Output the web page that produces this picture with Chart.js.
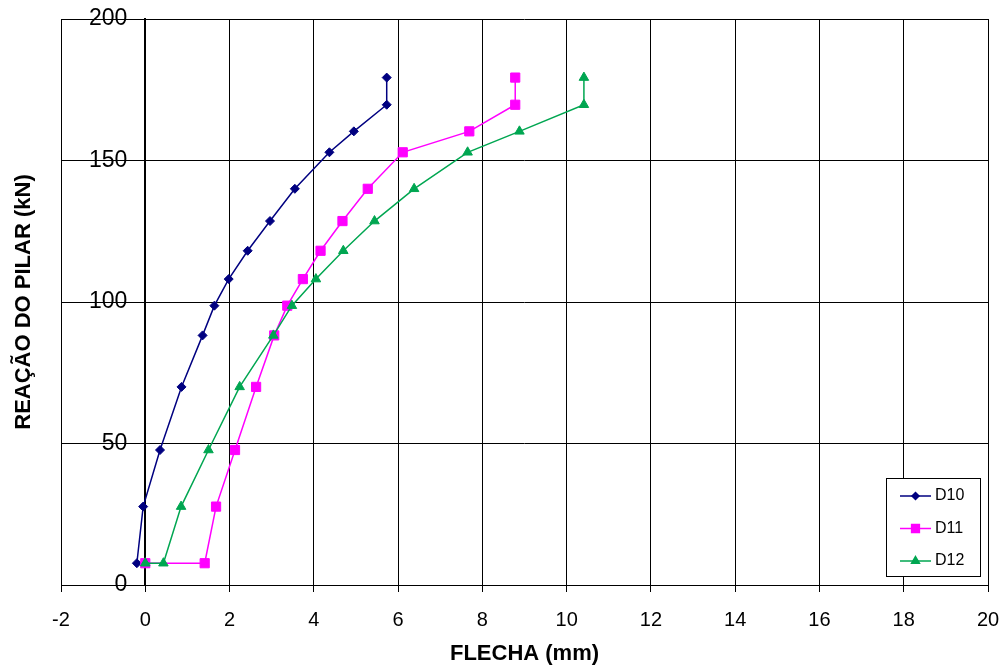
<!DOCTYPE html>
<html>
<head>
<meta charset="utf-8">
<script src="https://cdn.jsdelivr.net/npm/chart.js@4/dist/chart.umd.min.js"></script>
<style>
  html, body { margin: 0; padding: 0; background: #fff; }
  #wrap { width: 1005px; height: 668px; position: relative; }
</style>
</head>
<body>
<div id="wrap"><canvas id="grafico"></canvas></div>
<script>
// Flecha (mm) x reação do pilar (kN) - deflectometros D10, D11, D12
const flechaD10 = [-0.2, -0.05, 0.35, 0.86, 1.36, 1.64, 1.98, 2.43, 2.96, 3.55, 4.37, 4.95, 5.73, 5.73];
const cargaD10  = [7.7, 27.7, 47.7, 70, 88.2, 98.7, 108.1, 118.1, 128.6, 140, 152.9, 160.3, 169.7, 179.3];

const flechaD11 = [0, 1.41, 1.68, 2.13, 2.63, 3.06, 3.37, 3.74, 4.16, 4.68, 5.28, 6.11, 7.69, 8.78, 8.78];
const cargaD11  = [7.7, 7.7, 27.7, 47.7, 70, 88.2, 98.7, 108.1, 118.1, 128.6, 140, 152.9, 160.3, 169.7, 179.3];

const flechaD12 = [0, 0.43, 0.85, 1.5, 2.24, 3.04, 3.48, 4.05, 4.7, 5.44, 6.38, 7.65, 8.88, 10.41, 10.41];
const cargaD12  = [7.7, 7.7, 27.7, 47.7, 70, 88.2, 98.7, 108.1, 118.1, 128.6, 140, 152.9, 160.3, 169.7, 179.3];

const xTicks = { min: -2, max: 20, step: 2 };
const yTicks = { min: 0, max: 200, step: 50 };

const pares = (xs, ys) => xs.map((x, i) => ({ x: x, y: ys[i] }));

Chart.defaults.font.family = "'Liberation Sans', Arial, sans-serif";
Chart.defaults.color = '#000';

// legenda em caixa, no canto inferior direito da area do grafico
const legendaCaixa = {
    id: 'legendaCaixa',
    afterDraw(chart) {
        const { ctx, chartArea } = chart;
        const w = 94, h = 98;
        const x0 = Math.round(chartArea.right - 8 - w);
        const y0 = Math.round(chartArea.bottom - 9 - h);
        ctx.save();
        ctx.fillStyle = '#fff';
        ctx.fillRect(x0, y0, w, h);
        ctx.strokeStyle = '#000';
        ctx.lineWidth = 1;
        ctx.strokeRect(x0 + 0.5, y0 + 0.5, w, h);
        chart.data.datasets.forEach((ds, i) => {
            const cy = y0 + 18 + i * 32.5;
            ctx.strokeStyle = ds.borderColor;
            ctx.lineWidth = ds.borderWidth;
            ctx.beginPath();
            ctx.moveTo(x0 + 14, cy);
            ctx.lineTo(x0 + 45, cy);
            ctx.stroke();
            ctx.fillStyle = ds.pointBackgroundColor;
            ctx.strokeStyle = ds.pointBorderColor;
            Chart.helpers.drawPoint(ctx, {
                pointStyle: ds.pointStyle,
                radius: ds.pointRadius - 1,
                borderWidth: 1,
                rotation: 0
            }, x0 + 29.5, cy);
            ctx.fillStyle = '#000';
            ctx.font = "16px 'Liberation Sans', Arial, sans-serif";
            ctx.textBaseline = 'middle';
            ctx.textAlign = 'left';
            ctx.fillText(ds.label, x0 + 49, cy);
        });
        ctx.restore();
    }
};

const serie = (label, xs, ys, cor, estilo, raio, ordem) => ({
    label: label,
    data: pares(xs, ys),
    showLine: true,
    borderColor: cor,
    backgroundColor: cor,
    pointBackgroundColor: cor,
    pointBorderColor: cor,
    borderWidth: 1.5,
    pointStyle: estilo,
    pointRadius: raio,
    pointBorderWidth: 1,
    tension: 0,
    order: ordem,
});

new Chart(document.getElementById('grafico'), {
    type: 'scatter',
    data: {
        datasets: [
            serie('D10', flechaD10, cargaD10, '#000080', 'rectRot', 4.5, 2),
            serie('D11', flechaD11, cargaD11, '#ff00ff', 'rect', 6.5, 1),
            serie('D12', flechaD12, cargaD12, '#00a651', 'triangle', 5.5, 0),
        ]
    },
    options: {
        responsive: true,
        maintainAspectRatio: false,
        animation: false,
        layout: { padding: { left: 6, top: 19, right: 17, bottom: 0 } },
        plugins: {
            legend: { display: false },
            tooltip: { enabled: false },
        },
        scales: {
            x: {
                type: 'linear',
                position: 'bottom',
                min: xTicks.min,
                max: xTicks.max,
                // altura de linha maior para descer os rotulos sem aumentar o padding lateral
                ticks: { stepSize: xTicks.step, padding: 5, font: { size: 20, lineHeight: '46px' } },
                grid: { color: '#000', lineWidth: 1, tickLength: 7 },
                border: { color: '#000', width: 1 },
                title: {
                    display: true,
                    text: 'FLECHA (mm)',
                    font: { size: 22, weight: 'bold', lineHeight: '12px' },
                    padding: { top: 0, bottom: 8 },
                },
            },
            y: {
                type: 'linear',
                position: { x: 0 },
                min: yTicks.min,
                max: yTicks.max,
                ticks: {
                    stepSize: yTicks.step,
                    font: { size: 23 },
                    // afasta o rotulo do eixo (o eixo fica em x = 0)
                    callback: (v) => v + ' \u2002',
                },
                grid: { color: '#000', lineWidth: 1, tickLength: 6 },
                border: { color: '#000', width: 2 },
            },
            yTitulo: {
                type: 'linear',
                position: 'left',
                display: true,
                grid: { display: false, drawTicks: false },
                border: { display: false },
                ticks: { display: false },
                title: {
                    display: true,
                    text: 'REAÇÃO DO PILAR (kN)',
                    font: { size: 22, weight: 'bold' },
                    padding: { top: 5, bottom: 23.6 },
                },
            },
        },
    },
    plugins: [legendaCaixa],
});
</script>
</body>
</html>
